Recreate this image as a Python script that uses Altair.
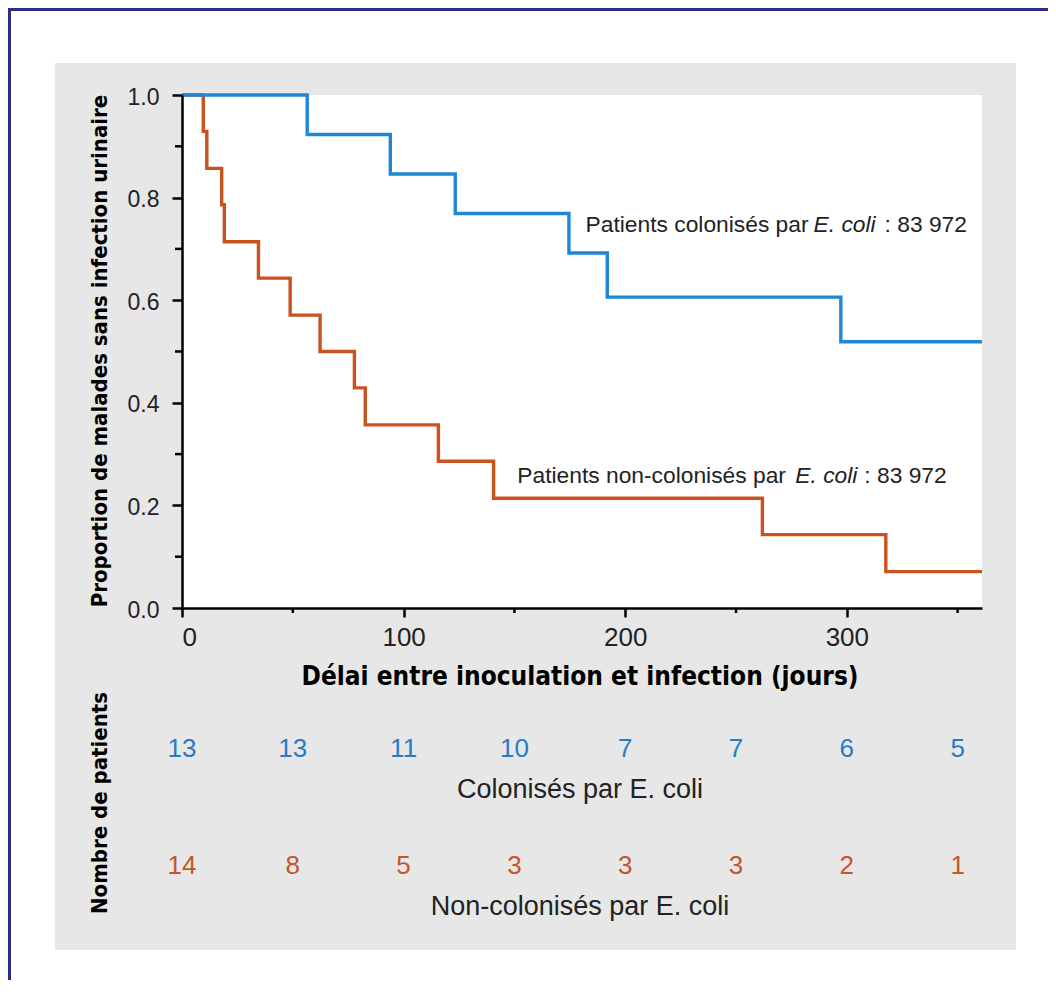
import altair as alt
import pandas as pd

# ---- data ----
t_col = [0, 56.5, 94.0, 123.3, 174.6, 191.9, 297.3, 361]
s_col = [1.0, 0.923, 0.846, 0.769, 0.692, 0.606, 0.519, 0.519]

t_non = [0, 9.6, 11.2, 17.9, 19.1, 34.5, 48.8, 62.3, 77.8, 82.7, 115.7, 140.6, 261.9, 317.6, 361]
s_non = [1.0, 0.929, 0.857, 0.786, 0.714, 0.643, 0.571, 0.500, 0.429, 0.357, 0.286, 0.214, 0.143, 0.071, 0.071]

risk_t = [0, 50, 100, 150, 200, 250, 300, 350]
risk_col = [13, 13, 11, 10, 7, 7, 6, 5]
risk_non = [14, 8, 5, 3, 3, 3, 2, 1]

y_major = [0.0, 0.2, 0.4, 0.6, 0.8, 1.0]
y_minor = [0.1, 0.3, 0.5, 0.7, 0.9]
x_major = [0, 100, 200, 300]
x_minor = [50, 150, 250, 350]

annot_col = {"t": 182.1, "s": 0.733}
annot_non = {"t": 151.3, "s": 0.2437}

BLUE = "#1f87d6"
ORANGE = "#c9521f"
BLUE_TXT = "#2a7bc4"
ORANGE_TXT = "#c4562a"
GRAY = "#e7e7e7"
NAVY = "#2b2e7e"
TXT = "#222222"
FONT = "Liberation Sans"
COND = "DejaVu Sans Condensed"

W, H = 800, 513
xscale = alt.Scale(domain=[0, 361], nice=False, zero=False)
yscale = alt.Scale(domain=[0, 1], nice=False)

x_axis = alt.Axis(
    values=x_major, format="d", tickSize=9, tickWidth=2.5, tickColor="black",
    domainColor="black", domainWidth=2.5, labelFont=FONT, labelFontSize=26,
    labelColor=TXT, labelPadding=7, grid=False, title=None, zindex=2)
y_axis = alt.Axis(
    values=y_major, format=".1f", tickSize=10, tickWidth=2.5, tickColor="black",
    domainColor="black", domainWidth=2.5, labelFont=FONT, labelFontSize=23,
    labelColor=TXT, labelPadding=13, labelOffset=2, grid=False, title=None, zindex=2)

one = alt.Data(values=[{}])

curves = pd.concat([
    pd.DataFrame({"t": t_non, "s": s_non, "g": "non"}),
    pd.DataFrame({"t": t_col, "s": s_col, "g": "col"}),
])

def rect(x, x2, y, y2, color):
    return alt.Chart(one).mark_rect(color=color).encode(
        x=alt.value(x), x2=alt.value(x2), y=alt.value(y), y2=alt.value(y2))

panel = rect(-127, 834, -32, 855, GRAY)
plotbg = rect(0, W, 0, H, "white")
border_top = rect(-174, 880, -87, -84, NAVY)
border_left = rect(-174, -171, -87, 900, NAVY)

lines = alt.Chart(curves).mark_line(interpolate="step-after", strokeWidth=3.4, strokeCap="butt").encode(
    x=alt.X("t:Q", scale=xscale, axis=x_axis),
    y=alt.Y("s:Q", scale=yscale, axis=y_axis),
    color=alt.Color("g:N", scale=alt.Scale(domain=["non", "col"], range=[ORANGE, BLUE]), legend=None),
    order=alt.Order("t:Q"),
    detail="g:N",
)

yminor = alt.Chart(pd.DataFrame({"s": y_minor})).mark_rule(color="black", strokeWidth=2.5).encode(
    y=alt.Y("s:Q", scale=yscale, axis=y_axis), x=alt.value(-7), x2=alt.value(0))
xminor = alt.Chart(pd.DataFrame({"t": x_minor})).mark_rule(color="black", strokeWidth=2.5).encode(
    x=alt.X("t:Q", scale=xscale, axis=x_axis), y=alt.value(H), y2=alt.value(H + 5))

def annot(pos, parts):
    layers = []
    for txt, dx, style in parts:
        layers.append(
            alt.Chart(alt.Data(values=[pos])).mark_text(
                text=txt, dx=dx, align="left", baseline="alphabetic", font=FONT,
                fontSize=22.8, fontStyle=style, color=TXT).encode(
                x=alt.X("t:Q", scale=xscale, axis=x_axis),
                y=alt.Y("s:Q", scale=yscale, axis=y_axis)))
    return layers

ann1 = annot(annot_col, [("Patients colonisés par", 0, "normal"), ("E. coli", 228, "italic"), (": 83 972", 299, "normal")])
ann2 = annot(annot_non, [("Patients non-colonisés par", 0, "normal"), ("E. coli", 278, "italic"), (": 83 972", 347, "normal")])

def risk_row(vals, color, ypix):
    return alt.Chart(pd.DataFrame({"t": risk_t, "n": vals})).mark_text(
        font=FONT, fontSize=26, color=color, baseline="alphabetic", align="center").encode(
        x=alt.X("t:Q", scale=xscale, axis=x_axis), y=alt.value(ypix), text="n:Q")

row1 = risk_row(risk_col, BLUE_TXT, 662)
row2 = risk_row(risk_non, ORANGE_TXT, 779)

def label(txt, x, y, **kw):
    return alt.Chart(one).mark_text(text=txt, **kw).encode(x=alt.value(x), y=alt.value(y))

lab1 = label("Colonisés par E. coli", 398, 703, font=FONT, fontSize=27, color=TXT, baseline="alphabetic", align="center")
lab2 = label("Non-colonisés par E. coli", 398, 820, font=FONT, fontSize=27, color=TXT, baseline="alphabetic", align="center")
xtitle = label("Délai entre inoculation et infection (jours)", 398, 590, font=COND,
               fontWeight="bold", fontSize=26, color="black", baseline="alphabetic", align="center")
ytitle = label("Proportion de malades sans infection urinaire", -75, 256, font=COND, fontWeight="bold",
               fontSize=22, color="black", baseline="alphabetic", align="center", angle=270)
ytitle2 = label("Nombre de patients", -75, 708, font=COND, fontWeight="bold",
                fontSize=22, color="black", baseline="alphabetic", align="center", angle=270)

chart = alt.layer(
    panel, plotbg, border_top, border_left, lines, yminor, xminor, *ann1, *ann2,
    row1, row2, lab1, lab2, xtitle, ytitle, ytitle2,
).properties(
    width=W, height=H, background="white",
    autosize=alt.AutoSizeParams(type="none"),
    padding={"left": 174, "top": 87, "right": 66, "bottom": 372},
).configure_view(stroke="transparent")

chart.save("out.html", embed_options={"renderer": "svg", "actions": False})
